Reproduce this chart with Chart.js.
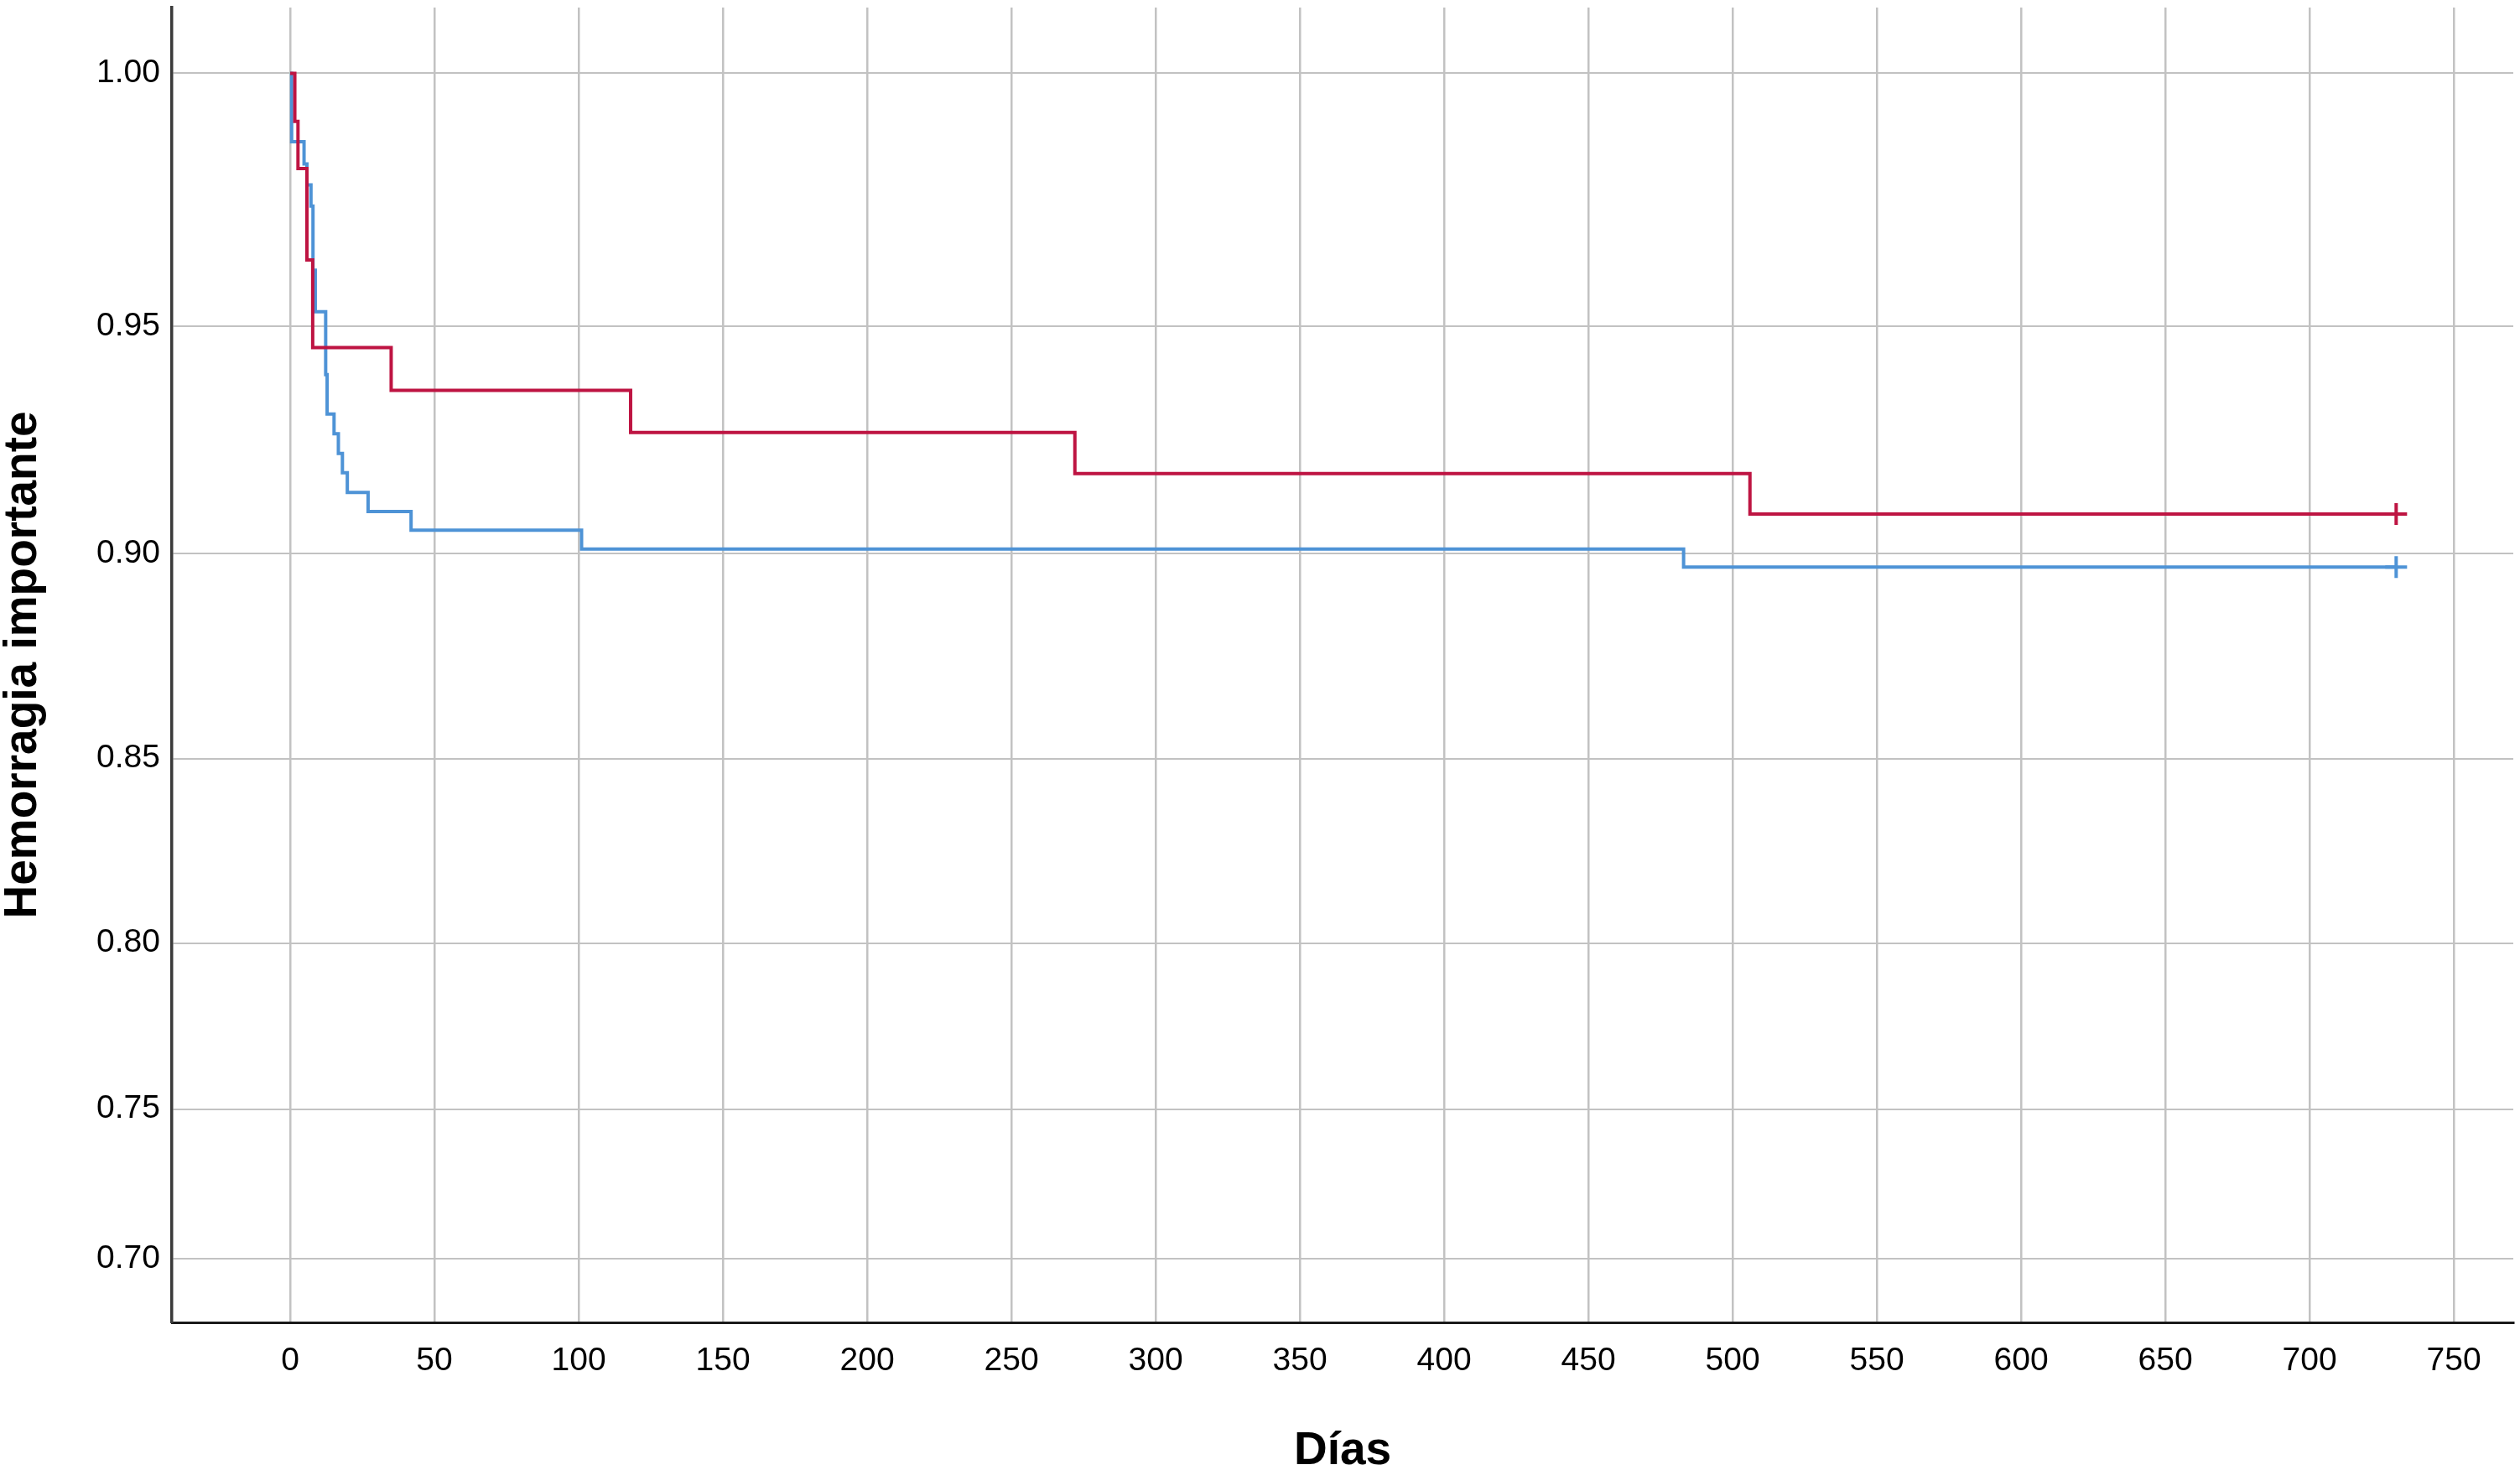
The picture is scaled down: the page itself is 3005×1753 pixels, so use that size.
<!DOCTYPE html>
<html>
<head>
<meta charset="utf-8">
<script src="https://cdn.jsdelivr.net/npm/chart.js@4/dist/chart.umd.min.js"></script>
<style>
  html, body { margin: 0; padding: 0; background: #fff; overflow: hidden; }
  #wrap { width: 3005px; height: 1753px; }
  canvas { display: block; }
</style>
</head>
<body>
<div id="wrap"><canvas id="kmChart" width="3005" height="1753"></canvas></div>
<script>
// ---- data ----
var redDays  = [0, 1.6, 2.7, 5.8, 7.8, 35, 118, 272, 506, 730];
var redSurv  = [1, 0.9909, 0.9818, 0.9636, 0.9455, 0.9364, 0.9273, 0.9182, 0.9091, 0.9091];
var blueDays = [0, 0.5, 4.8, 5.8, 7.2, 7.9, 8.7, 12.3, 12.8, 15.2, 16.7, 18.1, 19.8, 27, 41.9, 101, 483, 730];
var blueSurv = [1, 0.9870, 0.9827, 0.9786, 0.9744, 0.9615, 0.9530, 0.9398, 0.9313, 0.9270, 0.9227, 0.9184, 0.9140, 0.9097, 0.9054, 0.9011, 0.8969, 0.8969];
var xTicks = [0, 50, 100, 150, 200, 250, 300, 350, 400, 450, 500, 550, 600, 650, 700, 750];
var yTicks = [0.70, 0.75, 0.80, 0.85, 0.90, 0.95, 1.00];

var RED = '#BE1442';
var BLUE = '#4E93D6';
var GRID = '#c2c2c2';
var FONT = "'Liberation Sans', Arial, sans-serif";

// y axis in the original is stretched toward the top: pixel ~ exp(K * value)
var K = 2.1;
class ExpScale extends Chart.LinearScale {
    getPixelForValue(value) {
        var e0 = Math.exp(K * this.min), e1 = Math.exp(K * this.max);
        return this.getPixelForDecimal((Math.exp(K * value) - e0) / (e1 - e0));
    }
    getValueForPixel(pixel) {
        var e0 = Math.exp(K * this.min), e1 = Math.exp(K * this.max);
        return Math.log(e0 + this.getDecimalForPixel(pixel) * (e1 - e0)) / K;
    }
}
ExpScale.id = 'expstretch';
ExpScale.defaults = {};
Chart.register(ExpScale);

function toPoints(xs, ys) {
    return xs.map(function(x, i) { return { x: x, y: ys[i] }; });
}
function censorRadius(len) {
    return function(ctx) { return ctx.dataIndex === len - 1 ? 13 : 0; };
}
// no extra room for edge labels, the plot box is fixed
function noEdgePadding(s) {
    s.paddingTop = 0; s.paddingBottom = 0; s.paddingLeft = 0; s.paddingRight = 0;
}

new Chart(document.getElementById('kmChart').getContext('2d'), {
    type: 'line',
    data: {
        datasets: [
            {
                label: 'red',
                data: toPoints(redDays, redSurv),
                borderColor: RED, backgroundColor: RED,
                borderWidth: 4, stepped: 'before', fill: false,
                pointStyle: 'cross', pointRadius: censorRadius(redDays.length),
                pointBorderWidth: 4, pointBorderColor: RED
            },
            {
                label: 'blue',
                data: toPoints(blueDays, blueSurv),
                borderColor: BLUE, backgroundColor: BLUE,
                borderWidth: 4, stepped: 'before', fill: false,
                pointStyle: 'cross', pointRadius: censorRadius(blueDays.length),
                pointBorderWidth: 4, pointBorderColor: BLUE
            }
        ]
    },
    options: {
        responsive: false,
        devicePixelRatio: 1,
        animation: false,
        layout: { autoPadding: false, padding: { left: 0, top: 9, right: 8, bottom: 0 } },
        plugins: { legend: { display: false }, tooltip: { enabled: false } },
        scales: {
            x: {
                type: 'linear',
                min: -41, max: 770.6,
                afterFit: function(s) { s.height = 176; noEdgePadding(s); },
                afterBuildTicks: function(s) { s.ticks = xTicks.map(function(v) { return { value: v }; }); },
                grid: { color: GRID, lineWidth: 2.5, drawTicks: false },
                border: { display: true, color: '#1a1a1a', width: 3 },
                ticks: {
                    autoSkip: false, maxRotation: 0, padding: 23, color: '#000',
                    font: { family: FONT, size: 39 },
                    callback: function(v) { return String(v); }
                },
                title: {
                    display: true, text: 'Días', color: '#000',
                    font: { family: FONT, size: 55, weight: 'bold', lineHeight: 0.8 },
                    padding: { top: 0, bottom: 0 }
                }
            },
            y: {
                type: 'expstretch',
                min: 0.677, max: 1.0122,
                afterFit: function(s) { s.width = 205; noEdgePadding(s); },
                afterBuildTicks: function(s) { s.ticks = yTicks.map(function(v) { return { value: v }; }); },
                grid: { color: GRID, lineWidth: 2, drawTicks: false },
                border: { display: true, color: '#3a3a3a', width: 3.5 },
                ticks: {
                    autoSkip: false, padding: 14, color: '#000',
                    font: { family: FONT, size: 39 },
                    callback: function(v) { return Number(v).toFixed(2); }
                },
                title: {
                    display: true, text: 'Hemorragia importante', color: '#000',
                    font: { family: FONT, size: 55, weight: 'bold', lineHeight: 1 },
                    padding: { top: 0, bottom: 0 }
                }
            }
        }
    }
});
</script>
</body>
</html>
